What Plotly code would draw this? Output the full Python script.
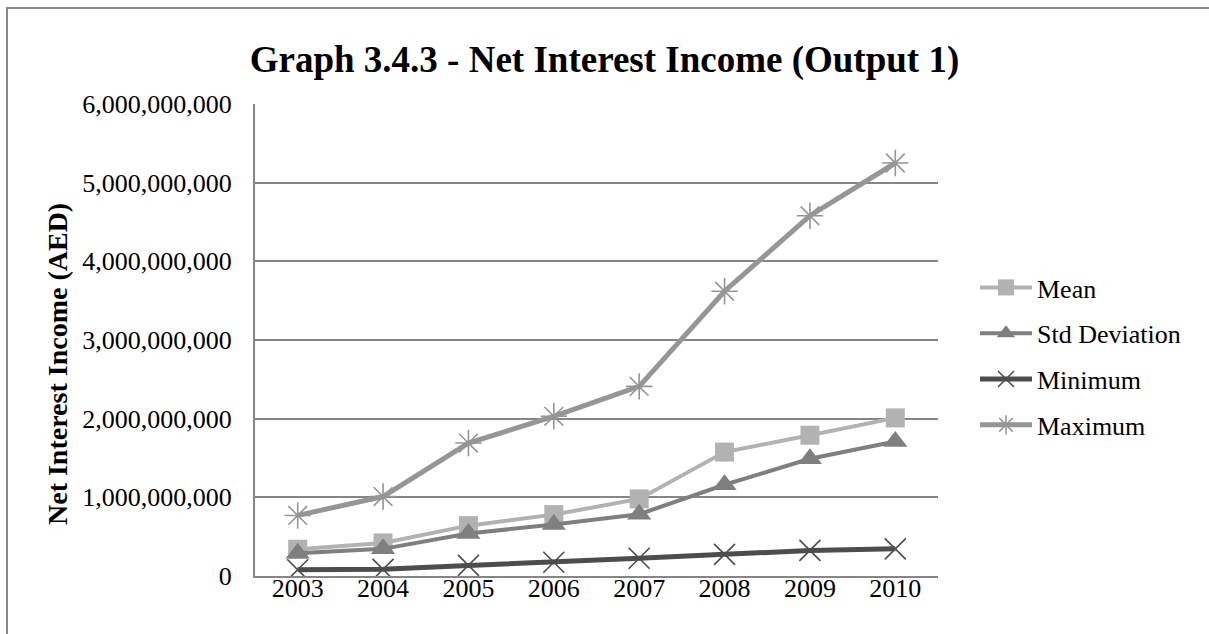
import plotly.graph_objects as go

years = ["2003", "2004", "2005", "2006", "2007", "2008", "2009", "2010"]
mean_vals = [340e6, 420e6, 640e6, 780e6, 980e6, 1575e6, 1790e6, 2010e6]
std_vals = [290e6, 345e6, 540e6, 655e6, 785e6, 1160e6, 1490e6, 1710e6]
min_vals = [80e6, 85e6, 135e6, 175e6, 225e6, 275e6, 325e6, 345e6]
max_vals = [770e6, 1010e6, 1690e6, 2030e6, 2410e6, 3620e6, 4580e6, 5250e6]
y_ticks = [0, 1e9, 2e9, 3e9, 4e9, 5e9, 6e9]
y_tick_text = ["0", "1,000,000,000", "2,000,000,000", "3,000,000,000",
               "4,000,000,000", "5,000,000,000", "6,000,000,000"]

W, H = 1209, 634
ML, MR, MT, MB = 255, 271, 104, 58
PW, PH = W - ML - MR, H - MT - MB

FONT = "Liberation Serif, Times New Roman, serif"
GRID = "#868686"

series = [
    ("Mean", mean_vals, "#b2b2b2", dict(symbol="square", size=19, color="#b2b2b2"), 4),
    ("Std Deviation", std_vals, "#7f7f7f", dict(symbol="triangle-up", size=21, color="#7f7f7f"), 4),
    ("Minimum", min_vals, "#4d4d4d",
     dict(symbol="x-thin-open", size=21, color="#4d4d4d", line=dict(color="#4d4d4d", width=1.6)), 5),
    ("Maximum", max_vals, "#969696",
     dict(symbol="asterisk-open", size=22, color="#969696", line=dict(color="#969696", width=1.6)), 5),
]

fig = go.Figure()
for i, (name, vals, col, marker, lw) in enumerate(series):
    fig.add_trace(go.Scatter(
        x=years, y=vals, name=name, mode="lines+markers",
        line=dict(color=col, width=lw), marker=marker,
        legendgroup=f"g{i}",
    ))


def px_x(p):
    return (p - ML) / PW


def px_y(p):
    return (H - MB - p) / PH


fig.update_layout(
    width=W, height=H,
    margin=dict(l=ML, r=MR, t=MT, b=MB, pad=0),
    paper_bgcolor="white", plot_bgcolor="white",
    font=dict(family=FONT, size=26, color="black"),
    title=dict(
        text="<b>Graph 3.4.3 - Net Interest Income (Output 1)</b>",
        x=0.5, xref="container", xanchor="center",
        y=1 - 59 / H, yref="container", yanchor="middle",
        font=dict(family=FONT, size=37, color="black"),
    ),
    xaxis=dict(
        type="category", range=[-0.5, 7.5],
        showgrid=False, showline=True, linecolor=GRID, linewidth=2,
        ticks="", ticklabelstandoff=-12,
        tickfont=dict(family=FONT, size=26),
    ),
    yaxis=dict(
        range=[0, 6e9], tickvals=y_ticks, ticktext=y_tick_text,
        showgrid=True, gridcolor=GRID, gridwidth=1.5,
        showline=True, linecolor=GRID, linewidth=2,
        zeroline=False, ticks="", ticklabelstandoff=16,
        tickfont=dict(family=FONT, size=26),
    ),
    annotations=[dict(
        text="<b>Net Interest Income (AED)</b>", textangle=-90,
        xref="paper", yref="paper", x=px_x(57), y=px_y(364),
        xanchor="center", yanchor="middle", showarrow=False,
        font=dict(family=FONT, size=28, color="black"),
    )],
    legend=dict(
        x=px_x(975), y=px_y(264), xanchor="left", yanchor="top",
        font=dict(family=FONT, size=26), bgcolor="rgba(0,0,0,0)",
        tracegroupgap=9, itemwidth=52,
    ),
    shapes=[dict(
        type="rect", xref="paper", yref="paper",
        x0=px_x(7), x1=px_x(1214), y0=px_y(640), y1=px_y(8),
        line=dict(color="#8a8a8a", width=2), fillcolor="rgba(0,0,0,0)",
        layer="below",
    )],
)

fig.write_html("out.html")
